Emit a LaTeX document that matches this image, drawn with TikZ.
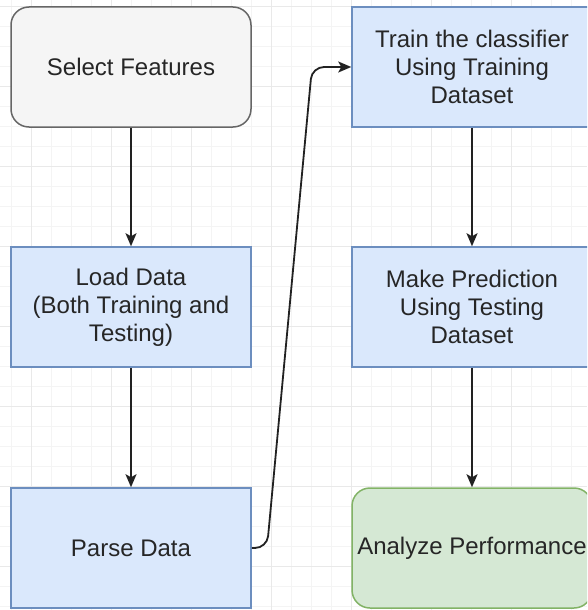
\documentclass[tikz,border=0pt]{standalone}
\usepackage{fontspec}
\setmainfont{Liberation Sans}
\usetikzlibrary{arrows.meta}
\definecolor{gridminor}{HTML}{F4F4F4}
\definecolor{gridmajor}{HTML}{E9E9E9}
\definecolor{bluefill}{HTML}{DAE8FC}
\definecolor{blueline}{HTML}{6C8EBF}
\definecolor{grayfill}{HTML}{F5F5F5}
\definecolor{grayline}{HTML}{666666}
\definecolor{greenfill}{HTML}{D5E8D4}
\definecolor{greenline}{HTML}{82B366}
\definecolor{edgecol}{HTML}{222222}
\tikzset{
  box/.style={draw=blueline, fill=bluefill, line width=1.5pt, minimum width=240pt, minimum height=120pt,
    align=center, inner sep=0pt, font=\fontsize{24}{28}\selectfont, text=black!85},
  graybox/.style={box, draw=grayline, fill=grayfill, rounded corners=18pt},
  greenbox/.style={box, draw=greenline, fill=greenfill, rounded corners=18pt},
  conn/.style={draw=edgecol, line width=1.8pt, -{Stealth[length=13pt, width=11pt, inset=3pt]}},
}
\begin{document}
\begin{tikzpicture}[x=1pt, y=-1pt]
\useasboundingbox (0,0) rectangle (587,610);
\clip (0,0) rectangle (587,610);
\fill[white] (0,0) rectangle (587,610);
% grid
\foreach \i in {0,...,29} {
  \draw[gridminor, line width=0.8pt] (11.7+20*\i-20, 0) -- (11.7+20*\i-20, 610);
}
\foreach \i in {0,...,31} {
  \draw[gridminor, line width=0.8pt] (0, 6.7+20*\i) -- (587, 6.7+20*\i);
}
\foreach \i in {0,...,7} {
  \draw[gridmajor, line width=0.8pt] (31.7+80*\i, 0) -- (31.7+80*\i, 610);
  \draw[gridmajor, line width=0.8pt] (0, 6.7+80*\i) -- (587, 6.7+80*\i);
}
% nodes
\node[graybox] (select) at (131,67) {Select Features};
\node[box] (load) at (131,307) {Load Data\\(Both Training and\\Testing)};
\node[box] (parse) at (131,548) {Parse Data};
\node[box] (train) at (472,67) {Train the classifier\\Using Training\\Dataset};
\node[box] (predict) at (472,307) {Make Prediction\\Using Testing\\Dataset};
\node[greenbox] (analyze) at (472,548) {Analyze Performance};
% connectors
\draw[conn] (select) -- (load);
\draw[conn] (load) -- (parse);
\draw[conn] (train) -- (predict);
\draw[conn] (predict) -- (analyze);
\coordinate (c1) at (267,548);
\coordinate (c2) at (312,67);
\draw[conn, rounded corners=12pt] (parse.east) -- (c1) -- (c2) -- (train.west);
\end{tikzpicture}
\end{document}
